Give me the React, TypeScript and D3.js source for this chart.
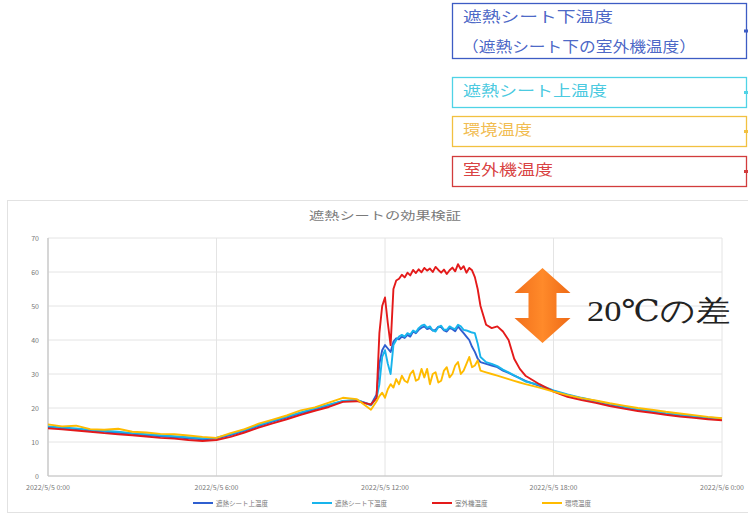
import React from "react";
import * as d3 from "d3";

// time in hours from 2022/5/5 0:00
const times = [
  0, 0.5, 1, 1.5, 2, 2.5, 3, 3.5, 4, 4.5, 5, 5.5, 6, 6.5, 7, 7.5, 8, 8.5, 9,
  9.5, 10, 10.5, 11, 11.5,
  11.7, 11.8, 11.9, 12.0, 12.1, 12.2, 12.3, 12.4, 12.5, 12.6, 12.7, 12.8, 12.9,
  13.0, 13.1, 13.2, 13.3, 13.4, 13.5, 13.6, 13.7, 13.8, 13.9, 14.0, 14.1, 14.2,
  14.3, 14.4, 14.5, 14.6, 14.7, 14.8, 14.9, 15.0, 15.1, 15.2, 15.3, 15.4,
  15.6, 15.8, 16.0, 16.2, 16.4, 16.6, 16.8, 17.0,
  17.5, 18, 18.5, 19, 19.5, 20, 20.5, 21, 21.5, 22, 22.5, 23, 23.5, 24,
];

// 遮熱シート上温度
const upperTemp = [
  14.3, 14.0, 13.8, 13.4, 13.0, 12.7, 12.4, 12.0, 11.7, 11.4, 11.1, 10.8, 11.0,
  12.0, 13.3, 14.7, 16.0, 17.2, 18.4, 19.6, 20.8, 22.0, 22.3, 21.0,
  24, 33, 37, 38.5, 37.5, 36.5, 39.5, 40.5,
  40.2, 41.0, 40.6, 41.5, 41.0, 42.5, 42.0, 43.0, 43.6, 44.0,
  43.2, 43.5, 42.8, 43.0, 43.9, 43.8, 42.8, 42.5, 43.5, 43.2,
  42.6, 44.0, 43.0, 42.0, 41.0, 40.0, 38.0, 36.5, 34.5, 33.5,
  33.0, 32.5, 32.0, 31.0, 30.3, 29.5, 28.8, 28.0,
  26.5, 25.0, 23.8, 22.8, 21.9, 21.0, 20.2, 19.4, 18.9, 18.3, 17.8, 17.4, 17.0,
  16.8,
];

// 遮熱シート下温度
const lowerTemp = [
  14.6, 14.3, 14.0, 13.6, 13.3, 13.0, 12.6, 12.3, 12.0, 11.7, 11.4, 11.1, 11.3,
  12.3, 13.6, 15.0, 16.3, 17.5, 18.7, 19.9, 21.0, 22.1, 22.4, 20.8,
  23, 27, 35, 37, 33, 30, 38.5, 40.0,
  41.0, 41.5, 41.0, 42.0, 41.6, 42.8, 42.3, 43.5, 44.2, 44.5,
  43.6, 44.0, 42.8, 42.5, 43.8, 44.2, 43.0, 43.0, 44.0, 43.5,
  43.2, 44.5, 44.0, 43.0, 42.8, 42.5, 42.2, 42.0, 39.0, 35.0,
  33.5, 33.0, 32.3, 31.3, 30.5, 29.6, 28.7, 27.8,
  26.8, 25.2, 24.0, 23.0, 22.1, 21.2, 20.4, 19.6, 19.1, 18.5, 18.0, 17.6, 17.2,
  16.9,
];

// 室外機温度
const unitTemp = [
  14.0, 13.7, 13.4, 13.0, 12.6, 12.3, 12.0, 11.6, 11.2, 11.0, 10.6, 10.3, 10.6,
  11.5, 12.8, 14.2, 15.5, 16.7, 18.0, 19.2, 20.3, 21.8, 22.0, 21.0,
  23, 42, 50, 52.5, 45, 38.5, 55, 57.5,
  58.0, 59.2, 58.4, 59.8, 59.0, 60.6, 59.7, 60.8, 59.9, 61.2,
  60.4, 61.0, 60.0, 61.5, 60.6, 59.8, 60.7, 59.4, 60.5, 61.3,
  60.2, 62.3, 60.8, 61.7, 59.8, 61.2, 60.5, 58.5, 55.0, 50.0,
  44.5, 43.5, 44.0, 42.5, 40.0, 34.5, 31.5, 29.5,
  27.0, 24.8, 23.3, 22.3, 21.5, 20.6, 19.8, 19.1, 18.6, 18.0, 17.5, 17.1, 16.7,
  16.4,
];

// 環境温度
const ambientTemp = [
  15.2, 14.6, 14.8, 13.8, 13.6, 13.9, 13.0, 12.8, 12.4, 12.3, 11.9, 11.5, 11.2,
  12.6, 13.8, 15.4, 16.6, 17.8, 19.3, 20.2, 21.6, 23.0, 22.6, 19.5,
  22, 23.5, 24.5, 23.0, 25.5, 27.0, 26.0, 28.5,
  27.0, 29.5, 28.0, 27.5, 30.0, 31.0, 28.0, 28.5, 31.5, 29.0,
  31.5, 27.0, 30.0, 30.5, 27.5, 28.0, 31.0, 32.0, 29.0, 30.0,
  32.5, 33.5, 30.0, 31.0, 33.0, 35.0, 32.0, 32.5, 34.0, 31.0,
  30.5, 30.0, 29.5, 29.0, 28.5, 28.0, 27.5, 27.0,
  26.0, 24.8, 23.8, 22.9, 22.2, 21.4, 20.7, 20.0, 19.5, 18.9, 18.4, 17.9, 17.4,
  17.0,
];

const xTickHours = [0, 6, 12, 18, 24];
const xTickLabels = [
  "2022/5/5 0:00",
  "2022/5/5 6:00",
  "2022/5/5 12:00",
  "2022/5/5 18:00",
  "2022/5/6 0:00",
];
const yTicks = [0, 10, 20, 30, 40, 50, 60, 70];

const series = [
  { name: "遮熱シート上温度", values: upperTemp, color: "#2f5fd0" },
  { name: "遮熱シート下温度", values: lowerTemp, color: "#18b4ec" },
  { name: "室外機温度", values: unitTemp, color: "#e41a1a" },
  { name: "環境温度", values: ambientTemp, color: "#ffbb00" },
];

const callouts = [
  { lines: ["遮熱シート下温度", "（遮熱シート下の室外機温度）"], stroke: "#3d5cc4", color: "#3554c0" },
  { lines: ["遮熱シート上温度"], stroke: "#4fd3e6", color: "#33c3dc" },
  { lines: ["環境温度"], stroke: "#f2c040", color: "#f0b43a" },
  { lines: ["室外機温度"], stroke: "#d23c3c", color: "#d42a2a" },
];

const sansJP = "'Noto Sans CJK JP', 'Noto Sans', sans-serif";

const App: React.FC = () => {
  const left = 48;
  const right = 722;
  const top = 238;
  const bottom = 476;

  const x = d3.scaleLinear().domain([0, 24]).range([left, right]);
  const y = d3.scaleLinear().domain([0, 70]).range([bottom, top]);

  const line = d3
    .line<number>()
    .x((_d, i) => x(times[i]))
    .y((d) => y(d));

  // callout boxes at the top right
  const boxTops = [3, 77, 116, 156];
  const boxHeights = [55, 30, 30, 30];
  const textWidths = [[150, 234], [144], [69], [90]];

  const legendX = [193, 312, 432, 542];

  // double headed arrow
  const ax = 542.5;
  const arrow = d3.path();
  arrow.moveTo(ax, 268);
  arrow.lineTo(ax + 28, 293);
  arrow.lineTo(ax + 14, 293);
  arrow.lineTo(ax + 14, 318);
  arrow.lineTo(ax + 28, 318);
  arrow.lineTo(ax, 343);
  arrow.lineTo(ax - 28, 318);
  arrow.lineTo(ax - 14, 318);
  arrow.lineTo(ax - 14, 293);
  arrow.lineTo(ax - 28, 293);
  arrow.closePath();

  return (
    <svg
      width={748}
      height={517}
      style={{ position: "absolute", left: 0, top: 0, background: "#fff" }}
    >
      <defs>
        <linearGradient id="arrowFill" x1="0" y1="0" x2="1" y2="0">
          <stop offset="0%" stopColor="#f2701c" />
          <stop offset="50%" stopColor="#ff8a2a" />
          <stop offset="100%" stopColor="#ee6a16" />
        </linearGradient>
      </defs>

      {/* callouts */}
      {callouts.map((c, i) => (
        <g key={i}>
          <rect
            x={452.5}
            y={boxTops[i] + 0.5}
            width={294}
            height={boxHeights[i]}
            fill="#fff"
            stroke={c.stroke}
            strokeWidth={1.3}
          />
          <rect
            x={744}
            y={boxTops[i] + boxHeights[i] / 2 - 1}
            width={4}
            height={3}
            fill={c.stroke}
          />
          {c.lines.map((t, j) => (
            <text
              key={j}
              x={j === 0 ? 463 : 462}
              y={boxTops[i] + 19 + j * 30}
              fontSize={15}
              fontFamily={sansJP}
              fill={c.color}
              fillOpacity={0.9}
              textLength={textWidths[i][j]}
              lengthAdjust="spacingAndGlyphs"
            >
              {t}
            </text>
          ))}
        </g>
      ))}

      {/* chart area */}
      <rect x={7.5} y={200.5} width={760} height={312} fill="#fff" stroke="#e2e2e2" />

      <text
        x={(left + right) / 2}
        y={220}
        textAnchor="middle"
        fontSize={11}
        fontFamily={sansJP}
        fill="#7a7a7a"
        textLength={152}
        lengthAdjust="spacingAndGlyphs"
      >
        遮熱シートの効果検証
      </text>

      {/* gridlines */}
      {yTicks.map((t) => (
        <line key={t} x1={left} x2={right} y1={y(t)} y2={y(t)} stroke="#e4e4e4" strokeWidth={1} />
      ))}
      {xTickHours.map((h) => (
        <line key={h} x1={x(h)} x2={x(h)} y1={top} y2={bottom} stroke="#e4e4e4" strokeWidth={1} />
      ))}
      <line x1={left} x2={left} y1={top} y2={bottom} stroke="#c4c4c4" strokeWidth={1.2} />
      <line x1={left} x2={right} y1={bottom} y2={bottom} stroke="#c4c4c4" strokeWidth={1.2} />

      {yTicks.map((t) => (
        <text
          key={t}
          x={39}
          y={y(t) + 2.5}
          textAnchor="end"
          fontSize={7}
          fontFamily={sansJP}
          fill="#777"
        >
          {t}
        </text>
      ))}
      {xTickHours.map((h, i) => (
        <text
          key={h}
          x={x(h)}
          y={490}
          textAnchor="middle"
          fontSize={7}
          fontFamily={sansJP}
          fill="#777"
        >
          {xTickLabels[i]}
        </text>
      ))}

      {/* series */}
      {series.map((s) => (
        <path
          key={s.name}
          d={line(s.values) || ""}
          fill="none"
          stroke={s.color}
          strokeWidth={1.9}
          strokeLinejoin="round"
        />
      ))}

      {/* legend */}
      {series.map((s, i) => (
        <g key={s.name}>
          <line
            x1={legendX[i]}
            x2={legendX[i] + 20}
            y1={503}
            y2={503}
            stroke={s.color}
            strokeWidth={2}
          />
          <text
            x={legendX[i] + 23}
            y={505.5}
            fontSize={6.5}
            fontFamily={sansJP}
            fill="#777"
          >
            {s.name}
          </text>
        </g>
      ))}

      {/* annotation */}
      <path d={arrow.toString()} fill="url(#arrowFill)" />
      <text
        x={587}
        y={321}
        fontSize={30}
        fontFamily="'Liberation Serif', 'DejaVu Serif', serif"
        fill="#222"
        textLength={143}
        lengthAdjust="spacingAndGlyphs"
      >
        20℃の差
      </text>
    </svg>
  );
};

export default App;
